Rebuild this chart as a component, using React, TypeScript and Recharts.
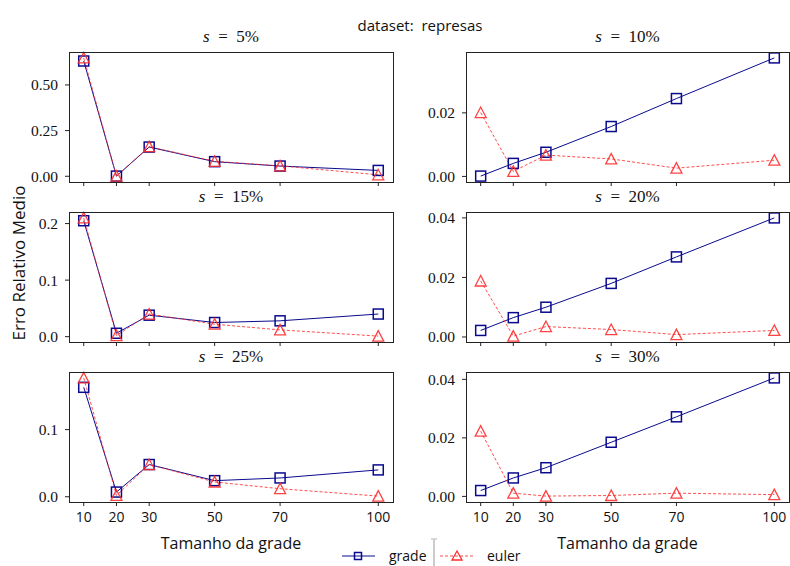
import React from "react";
import { LineChart, Line, XAxis, YAxis } from "recharts";

// grid sizes (x axis)
const sizes = [10, 20, 30, 50, 70, 100];

// erro relativo medio, one pair of arrays per sample rate
const grade5 = [0.631, 0.001, 0.16, 0.08, 0.056, 0.032];
const euler5 = [0.648, 0.001, 0.162, 0.082, 0.057, 0.008];
const grade10 = [0.0001, 0.0041, 0.0076, 0.0157, 0.0245, 0.0373];
const euler10 = [0.0201, 0.0016, 0.0067, 0.0055, 0.0026, 0.0051];
const grade15 = [0.205, 0.006, 0.038, 0.025, 0.028, 0.04];
const euler15 = [0.21, 0.002, 0.04, 0.022, 0.012, 0.001];
const grade20 = [0.0022, 0.0065, 0.01, 0.018, 0.0269, 0.04];
const euler20 = [0.0188, 0.0003, 0.0035, 0.0025, 0.0008, 0.0022];
const grade25 = [0.163, 0.007, 0.048, 0.024, 0.028, 0.04];
const euler25 = [0.177, 0.002, 0.048, 0.022, 0.012, 0.001];
const grade30 = [0.002, 0.0063, 0.0098, 0.0185, 0.0272, 0.0405];
const euler30 = [0.0223, 0.0011, 0.0001, 0.0003, 0.0011, 0.0006];

const ticks5 = [0, 0.25, 0.5];
const ticks10 = [0, 0.02];
const ticks15 = [0, 0.1, 0.2];
const ticks20 = [0, 0.02, 0.04];
const ticks25 = [0, 0.1];
const ticks30 = [0, 0.02, 0.04];

const BLUE = "#0a0a8f";
const RED = "#ff2e2e";
const SERIF = "'Liberation Serif', 'DejaVu Serif', serif";
const SANS = "'Open Sans', 'DejaVu Sans', sans-serif";

const colLeft = [69, 466];
const colWidth = [324, 323];
const rowTop = [52, 212, 372];
const PH = 130;
const YW = 60;
const TOPPAD = 10;

const Square = (props: any) => {
  const { cx, cy, index } = props;
  if (cx == null || cy == null) return <g key={index} />;
  return (
    <rect key={index} x={cx - 5} y={cy - 5} width={10} height={10}
      fill="none" stroke={BLUE} strokeWidth={1.5} />
  );
};

const Triangle = (props: any) => {
  const { cx, cy, index } = props;
  if (cx == null || cy == null) return <g key={index} />;
  return (
    <polygon key={index}
      points={`${cx},${cy - 5.5} ${cx - 5.5},${cy + 5} ${cx + 5.5},${cy + 5}`}
      fill="none" stroke={RED} strokeWidth={1.3} strokeOpacity={0.9} />
  );
};

// matplotlib-like 5% margin around the data
function padDomain(a: number[], b: number[]): [number, number] {
  const all = a.concat(b);
  const lo = Math.min(...all);
  const hi = Math.max(...all);
  const m = (hi - lo) * 0.05;
  return [lo - m, hi + m];
}

type PanelProps = {
  title: string;
  grade: number[];
  euler: number[];
  ticks: number[];
  decimals: number;
  col: number;
  row: number;
};

function Panel({ title, grade, euler, ticks, decimals, col, row }: PanelProps) {
  const left = colLeft[col];
  const top = rowTop[row];
  const pw = colWidth[col];
  const showX = row === 2;
  const xh = showX ? 32 : 6;
  const data = sizes.map((n, i) => ({ n, grade: grade[i], euler: euler[i] }));
  return (
    <>
      <div style={{ position: "absolute", left, top: top - 26, width: pw, height: 22,
        lineHeight: "22px", textAlign: "center", fontFamily: SERIF, fontSize: 17, color: "#111" }}>
        <i>s</i>{"\u2002=\u2002"}{title}
      </div>
      <div style={{ position: "absolute", left: left - YW, top: top - TOPPAD }}>
        <LineChart width={YW + pw + 2} height={PH + xh + TOPPAD} data={data}
          margin={{ top: TOPPAD, right: 2, left: 0, bottom: 0 }}>
          <XAxis dataKey="n" type="number" domain={[5.5, 104.5]} ticks={sizes}
            interval={0} height={xh} axisLine={false} tickSize={4} tickMargin={6}
            tickLine={{ stroke: "#222" }}
            tick={{ fill: "#111", fontSize: 14, fontFamily: SANS }}
            tickFormatter={(v: number) => (showX ? String(v) : "")} />
          <YAxis type="number" domain={padDomain(grade, euler)} ticks={ticks}
            interval={0} width={YW} axisLine={false} tickSize={4} tickMargin={7}
            tickLine={{ stroke: "#222" }}
            tick={{ fill: "#111", fontSize: 15.5, fontFamily: SERIF }}
            tickFormatter={(v: number) => v.toFixed(decimals)} />
          <Line dataKey="grade" type="linear" stroke={BLUE} strokeWidth={1}
            dot={Square} activeDot={false} isAnimationActive={false} />
          <Line dataKey="euler" type="linear" stroke={RED} strokeWidth={1}
            strokeOpacity={0.85} strokeDasharray="3 2" dot={Triangle}
            activeDot={false} isAnimationActive={false} />
        </LineChart>
      </div>
      <div style={{ position: "absolute", left: left - 0.5, top: top - 0.5, width: pw + 1,
        height: PH + 1, border: "1.2px solid #222", boxSizing: "border-box", pointerEvents: "none" }} />
    </>
  );
}

export default function App() {
  return (
    <div style={{ position: "absolute", left: 0, top: 0, width: 790, height: 566,
      background: "#fff", overflow: "hidden" }}>
      <div style={{ position: "absolute", left: 320, top: 14, width: 200, textAlign: "center",
        fontFamily: SANS, fontSize: 15, lineHeight: "22px", color: "#111" }}>
        dataset:&nbsp; represas
      </div>

      <Panel title="5%" grade={grade5} euler={euler5} ticks={ticks5} decimals={2} col={0} row={0} />
      <Panel title="10%" grade={grade10} euler={euler10} ticks={ticks10} decimals={2} col={1} row={0} />
      <Panel title="15%" grade={grade15} euler={euler15} ticks={ticks15} decimals={1} col={0} row={1} />
      <Panel title="20%" grade={grade20} euler={euler20} ticks={ticks20} decimals={2} col={1} row={1} />
      <Panel title="25%" grade={grade25} euler={euler25} ticks={ticks25} decimals={1} col={0} row={2} />
      <Panel title="30%" grade={grade30} euler={euler30} ticks={ticks30} decimals={2} col={1} row={2} />

      <div style={{ position: "absolute", left: 19 - 100, top: 263 - 12, width: 200, height: 24,
        lineHeight: "24px", textAlign: "center", transform: "rotate(-90deg)",
        fontFamily: SANS, fontSize: 17, color: "#111" }}>
        Erro Relativo Medio
      </div>
      <div style={{ position: "absolute", left: 69, top: 531, width: 324, textAlign: "center",
        fontFamily: SANS, fontSize: 16, lineHeight: "24px", color: "#111" }}>
        Tamanho da grade
      </div>
      <div style={{ position: "absolute", left: 466, top: 531, width: 323, textAlign: "center",
        fontFamily: SANS, fontSize: 16, lineHeight: "24px", color: "#111" }}>
        Tamanho da grade
      </div>

      <svg style={{ position: "absolute", left: 330, top: 535 }} width={200} height={31}>
        <line x1={12} y1={21} x2={45} y2={21} stroke={BLUE} strokeWidth={1} />
        <rect x={24.5} y={17.5} width={7} height={7} fill="none" stroke={BLUE} strokeWidth={1.5} />
        <text x={59} y={26} fontFamily={SANS} fontSize={14} fill="#111">grade</text>
        <line x1={104} y1={4} x2={104} y2={31} stroke="#ccc" strokeWidth={2} />
        <line x1={101} y1={4} x2={107} y2={4} stroke="#ccc" strokeWidth={1.5} />
        <line x1={110} y1={21} x2={145} y2={21} stroke={RED} strokeWidth={1}
          strokeDasharray="3 2" strokeOpacity={0.85} />
        <polygon points="127,16 122,25 132,25" fill="none" stroke={RED} strokeWidth={1.3} />
        <text x={157} y={26} fontFamily={SANS} fontSize={14} fill="#111">euler</text>
      </svg>
    </div>
  );
}
